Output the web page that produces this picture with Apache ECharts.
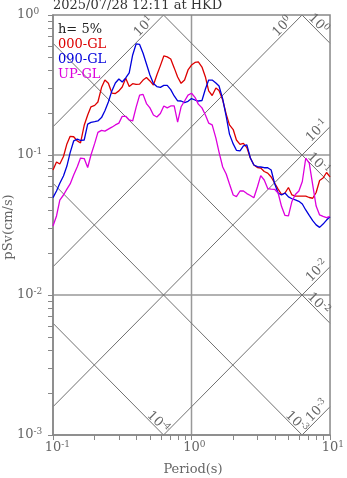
<!DOCTYPE html>
<html><head><meta charset="utf-8">
<script src="https://cdn.jsdelivr.net/npm/echarts@6/dist/echarts.min.js"></script>
<style>html,body{margin:0;padding:0;background:#fff}#c{width:347px;height:478px}</style>
</head><body><div id="c"></div>
<script>
// ---------- data ----------
const titleText = '2025/07/28 12:11 at HKD';
const dampingText = 'h= 5%';
const seriesNames = ['000-GL', '090-GL', 'UP-GL'];
const seriesColors = ['#dd0000', '#0000dd', '#dd00dd'];
const xAxisName = 'Period(s)';
const yAxisName = 'pSv(cm/s)';

const periods = [
  0.100,0.106,0.112,0.119,0.126,0.133,0.141,0.150,0.158,0.168,
  0.178,0.188,0.200,0.211,0.224,0.237,0.251,0.266,0.282,0.299,
  0.316,0.335,0.355,0.376,0.398,0.422,0.447,0.473,0.501,0.531,
  0.562,0.596,0.631,0.668,0.708,0.750,0.794,0.841,0.891,0.944,
  1.00,1.06,1.12,1.19,1.26,1.33,1.41,1.50,1.58,1.68,
  1.78,1.88,2.00,2.11,2.24,2.37,2.51,2.66,2.82,2.99,
  3.16,3.35,3.55,3.76,3.98,4.22,4.47,4.73,5.01,5.31,
  5.62,5.96,6.31,6.68,7.08,7.50,7.94,8.41,8.91,9.44,
  10.0
];
const pSv000 = [
  0.0781,0.0891,0.0862,0.0976,0.120,0.136,0.135,0.126,0.122,0.163,
  0.193,0.221,0.226,0.239,0.303,0.343,0.325,0.277,0.275,0.287,
  0.306,0.353,0.308,0.323,0.319,0.321,0.343,0.358,0.338,0.316,
  0.373,0.435,0.510,0.502,0.485,0.419,0.361,0.325,0.343,0.405,
  0.439,0.458,0.462,0.425,0.361,0.287,0.266,0.301,0.289,0.247,
  0.196,0.164,0.152,0.128,0.119,0.121,0.113,0.0952,0.0848,0.0814,
  0.0807,0.0762,0.0743,0.0697,0.0631,0.0571,0.0522,0.0535,0.0586,0.0518,
  0.0509,0.0509,0.0509,0.0509,0.0497,0.0491,0.0540,0.0658,0.0685,0.0750,
  0.0697
];
const pSv090 = [
  0.0496,0.0553,0.0628,0.0708,0.0834,0.104,0.126,0.130,0.127,0.128,
  0.166,0.171,0.173,0.175,0.185,0.207,0.239,0.287,0.327,0.349,
  0.332,0.355,0.386,0.518,0.621,0.616,0.533,0.447,0.373,0.324,
  0.308,0.304,0.314,0.314,0.293,0.264,0.244,0.243,0.237,0.242,
  0.253,0.247,0.243,0.245,0.296,0.343,0.343,0.327,0.311,0.251,
  0.189,0.141,0.120,0.108,0.107,0.116,0.118,0.0952,0.0848,0.0827,
  0.0821,0.0811,0.0811,0.0781,0.0626,0.0535,0.0518,0.0535,0.0502,0.0487,
  0.0478,0.0467,0.0447,0.0405,0.0370,0.0340,0.0317,0.0304,0.0321,0.0343,
  0.0362
];
const pSvUP = [
  0.0311,0.0367,0.0477,0.0518,0.0571,0.0621,0.0720,0.0827,0.0951,0.0943,
  0.0814,0.100,0.121,0.145,0.150,0.148,0.153,0.158,0.164,0.169,
  0.189,0.189,0.178,0.175,0.219,0.268,0.271,0.233,0.217,0.193,
  0.187,0.198,0.224,0.217,0.224,0.224,0.172,0.221,0.243,0.268,
  0.276,0.258,0.231,0.217,0.193,0.169,0.164,0.132,0.105,0.0821,
  0.0731,0.0621,0.0518,0.0505,0.0553,0.0553,0.0530,0.0514,0.0495,0.0591,
  0.0713,0.0663,0.0576,0.0571,0.0569,0.0535,0.0428,0.0370,0.0367,0.0466,
  0.0522,0.0553,0.0647,0.0948,0.0874,0.0611,0.0432,0.0373,0.0364,0.0357,
  0.0364
];
const xDecades = [0.1, 1];
const yDecades = [0.001, 0.01, 0.1];
const tickMultipliers = [1,2,3,4,5,6,7,8,9];
const xLabelValues = [0.1, 1, 10];
const yLabelValues = [0.001, 0.01, 0.1, 1];
const xGridValues = [1];
const yGridValues = [0.01, 0.1];
const sdLevels = [1, 0.1, 0.01, 0.001, 0.0001];   // displacement (cm)
const saLevels = [10, 1, 0.1, 0.01, 0.001];       // acceleration (cm/s^2)

// ---------- chart ----------
const FONT = 'DejaVu Serif';
const GRAY = '#666';
const TMIN = 0.1, TMAX = 10, VMIN = 0.001, VMAX = 1, TWO_PI = 2 * Math.PI;

const xTicks = [], yTicks = [];
xDecades.forEach(d => tickMultipliers.forEach(m => xTicks.push(+(d * m).toPrecision(3))));
xTicks.push(10);
yDecades.forEach(d => tickMultipliers.forEach(m => yTicks.push(+(d * m).toPrecision(3))));
yTicks.push(1);

const rich = {
  b: { fontFamily: FONT, fontSize: 13, color: GRAY, fill: GRAY, lineHeight: 16 },
  s: { fontFamily: FONT, fontSize: 9, color: GRAY, fill: GRAY, lineHeight: 10, verticalAlign: 'top' },
  p1: { fontFamily: FONT, fontSize: 9, width: 5.7 },
  pm: { fontFamily: FONT, fontSize: 9, width: 8.8 }
};
function expStr(v) { return String(Math.round(Math.log10(v))); }
function supLabel(v, pad) {
  const e = expStr(v);
  return (pad ? (e.length > 1 ? '{pm| }' : '{p1| }') : '') + '{b|10}{s|' + e + '}';
}

function sdSeg(sd) {
  const c = TWO_PI * sd;
  const t1 = Math.max(TMIN, c / VMAX), t2 = Math.min(TMAX, c / VMIN);
  return { pts: [[t1, c / t1], [t2, c / t2]], exit: t2 >= TMAX - 1e-9 ? 'right' : 'bottom' };
}
function saSeg(sa) {
  const c = sa / TWO_PI;
  const t1 = Math.max(TMIN, VMIN / c), t2 = Math.min(TMAX, VMAX / c);
  return { pts: [[t1, c * t1], [t2, c * t2]], exit: t2 >= TMAX - 1e-9 ? 'right' : 'top' };
}
const sdSegs = sdLevels.map(sdSeg);
const saSegs = saLevels.map(saSeg);

const diagSeries = [...sdSegs, ...saSegs].map(s => ({
  type: 'line', data: s.pts, showSymbol: false, silent: true, z: 1,
  lineStyle: { color: '#707070', width: 1 }, animation: false
}));
const gridSeries = [
  ...xGridValues.map(v => [[v, VMIN], [v, VMAX]]),
  ...yGridValues.map(v => [[TMIN, v], [TMAX, v]])
].map(pts => ({
  type: 'line', data: pts, showSymbol: false, silent: true, z: 0,
  lineStyle: { color: '#999', width: 1.5 }, animation: false
}));

const curveData = [pSv000, pSv090, pSvUP];
const curveSeries = curveData.map((arr, i) => ({
  type: 'line', name: seriesNames[i], showSymbol: false, z: 5,
  data: periods.map((t, j) => [t, arr[j]]),
  lineStyle: { color: seriesColors[i], width: 1.3 }, animation: false
}));

const chart = echarts.init(document.getElementById('c'), null, { renderer: 'canvas' });
const option = {
  animation: false,
  backgroundColor: '#fff',
  grid: { left: 53, top: 15, width: 280, height: 420, show: true, borderColor: '#888', borderWidth: 1.5, z: 3 },
  xAxis: {
    type: 'log', logBase: 10, min: TMIN, max: TMAX,
    axisLine: { show: true, lineStyle: { color: '#888', width: 1.5 } },
    axisTick: { show: true, customValues: xTicks, length: 5, lineStyle: { color: '#888', width: 1 } },
    axisLabel: { customValues: xLabelValues, margin: 5, formatter: v => supLabel(v, true), rich: rich },
    splitLine: { show: false },
    minorTick: { show: false }, minorSplitLine: { show: false }
  },
  yAxis: {
    type: 'log', logBase: 10, min: VMIN, max: VMAX,
    axisLine: { show: true, lineStyle: { color: '#888', width: 1.5 } },
    axisTick: { show: true, customValues: yTicks, length: 5, lineStyle: { color: '#888', width: 1 } },
    axisLabel: { customValues: yLabelValues, margin: 36, align: 'left', formatter: v => supLabel(v, false), rich: rich },
    splitLine: { show: false }
  },
  series: [...gridSeries, ...diagSeries, ...curveSeries]
};
chart.setOption(option);

// ---------- texts ----------
const S = Math.SQRT1_2;
const graphics = [];
function txt(x, y, text, color, align, extra) {
  return Object.assign({
    type: 'text', x: x, y: y, silent: true, z: 10,
    style: { text: text, fill: color, font: '13px "' + FONT + '"', fontFamily: FONT, fontSize: 13,
             align: align, verticalAlign: 'middle', textAlign: align, textVerticalAlign: 'middle' }
  }, extra || {});
}
graphics.push(txt(53, 6, titleText, '#333', 'left'));
graphics.push(txt(58, 29.5, dampingText, '#222', 'left'));
seriesNames.forEach((n, i) => graphics.push(txt(58, 44.5 + 15 * i, n, seriesColors[i], 'left')));

function diagLabel(pt, dir, nrm, a, p, rot, text) {
  const e = chart.convertToPixel({ xAxisIndex: 0, yAxisIndex: 0 }, pt);
  const x = e[0] + a * dir[0] + p * nrm[0];
  const y = e[1] + a * dir[1] + p * nrm[1];
  return {
    type: 'text', x: x, y: y, rotation: rot, silent: true, z: 10,
    style: { text: text, rich: rich, fill: GRAY, fontFamily: FONT, fontSize: 13,
             align: 'center', verticalAlign: 'middle', textAlign: 'center', textVerticalAlign: 'middle' }
  };
}
saSegs.forEach((s, i) => {
  const top = s.exit === 'top';
  graphics.push(diagLabel(s.pts[1], [-S, S], [-S, -S], top ? 22 : 12, top ? 5.5 : 6, Math.PI / 4,
    '{b|10}{s|' + expStr(saLevels[i]) + '}'));
});
sdSegs.forEach((s, i) => {
  const right = s.exit === 'right';
  graphics.push(diagLabel(s.pts[1], [-S, -S], [S, -S], right ? 22 : 13, right ? 5.5 : 5, -Math.PI / 4,
    '{b|10}{s|' + expStr(sdLevels[i]) + '}'));
});
graphics.push(txt(193, 470, xAxisName, GRAY, 'center'));
graphics.push(txt(8.5, 227, yAxisName, GRAY, 'center', { rotation: Math.PI / 2 }));

chart.setOption({ graphic: graphics });
</script>
</body></html>
